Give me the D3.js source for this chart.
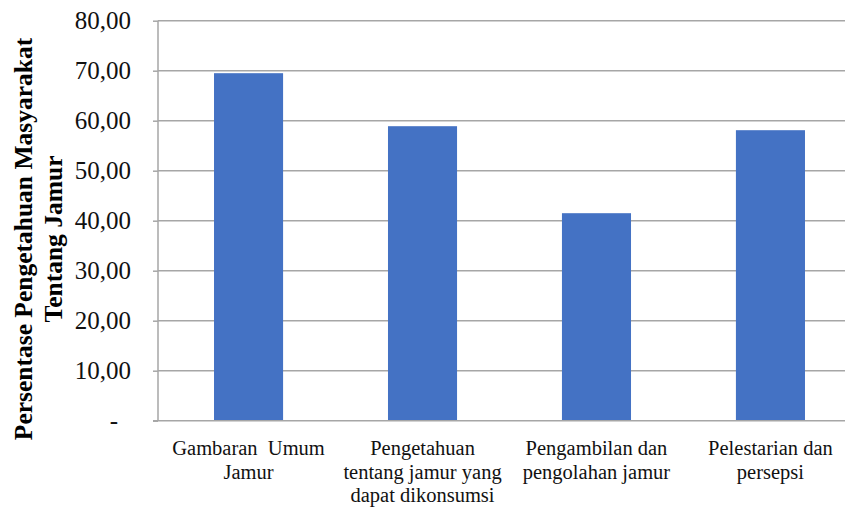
<!DOCTYPE html>
<html>
<head>
<meta charset="utf-8">
<style>
  body { margin: 0; background: #fff; }
  svg { display: block; }
  text { font-family: "Liberation Serif", "Times New Roman", serif; }
</style>
<script src="https://d3js.org/d3.v7.min.js"></script>
</head>
<body>
<svg width="845" height="508"></svg>
<script>
// data
var categories = [
  ["Gambaran  Umum", "Jamur"],
  ["Pengetahuan", "tentang jamur yang", "dapat dikonsumsi"],
  ["Pengambilan dan", "pengolahan jamur"],
  ["Pelestarian dan", "persepsi"]
];
var values = [69.5, 58.9, 41.5, 58.1];
var yTicks = [0, 10, 20, 30, 40, 50, 60, 70, 80];
var yTitle = ["Persentase Pengetahuan Masyarakat", "Tentang Jamur"];

(function() {
  var svg = d3.select("svg");
  var m = {left: 158, right: 861, top: 20.7, bottom: 420.7};

  var x = d3.scaleBand()
      .domain(d3.range(categories.length))
      .range([m.left, m.right])
      .paddingInner(0.603)
      .paddingOuter(0.322);

  var y = d3.scaleLinear().domain([0, 80]).range([m.bottom, m.top]);

  var fmt = function(d) { return d === 0 ? "-" : d3.format(".2f")(d).replace(".", ","); };

  // gridlines
  svg.append("g")
    .selectAll("line")
    .data(yTicks.slice(1))
    .enter().append("line")
      .attr("x1", m.left).attr("x2", 845)
      .attr("y1", function(d) { return y(d); })
      .attr("y2", function(d) { return y(d); })
      .attr("stroke", "#a6a6a6")
      .attr("stroke-width", 1.5);

  // bars
  svg.append("g")
    .selectAll("rect")
    .data(values)
    .enter().append("rect")
      .attr("x", function(d, i) { return x(i); })
      .attr("y", function(d) { return y(d); })
      .attr("width", x.bandwidth())
      .attr("height", function(d) { return m.bottom - y(d); })
      .attr("fill", "#4472c4");

  // y axis
  var yAxis = svg.append("g")
      .attr("transform", "translate(" + m.left + ",0)")
      .call(d3.axisLeft(y).tickValues(yTicks).tickFormat(fmt).tickSize(5).tickPadding(22));
  yAxis.select(".domain").remove();
  yAxis.selectAll(".tick line").attr("stroke", "#a6a6a6").attr("stroke-width", 1.5);
  yAxis.selectAll(".tick text")
      .attr("font-family", null)
      .attr("font-size", 25)
      .attr("fill", "#111")
      .attr("dx", function(d) { return d === 0 ? -13 : 0; });

  // axis lines
  svg.append("line")
      .attr("x1", m.left).attr("x2", m.left)
      .attr("y1", m.top).attr("y2", m.bottom)
      .attr("stroke", "#a6a6a6").attr("stroke-width", 1.5);
  svg.append("line")
      .attr("x1", m.left - 5).attr("x2", 845)
      .attr("y1", m.bottom).attr("y2", m.bottom)
      .attr("stroke", "#a6a6a6").attr("stroke-width", 1.5);

  // x labels
  var xl = svg.append("g")
    .selectAll("text")
    .data(categories)
    .enter().append("text")
      .attr("x", function(d, i) { return x(i) + x.bandwidth() / 2; })
      .attr("y", 455)
      .attr("text-anchor", "middle")
      .attr("font-size", 20.5)
      .attr("fill", "#111")
      .style("white-space", "pre");
  xl.selectAll("tspan")
    .data(function(d) { return d; })
    .enter().append("tspan")
      .attr("x", function() { return this.parentNode.getAttribute("x"); })
      .attr("dy", function(d, i) { return i === 0 ? 0 : 23.5; })
      .text(function(d) { return d; });

  // y title
  svg.append("g")
    .selectAll("text")
    .data(yTitle)
    .enter().append("text")
      .attr("transform", function(d, i) { return "translate(" + (32 + i * 30) + ",239) rotate(-90)"; })
      .attr("text-anchor", "middle")
      .attr("font-weight", "bold")
      .attr("font-size", 25.5)
      .attr("fill", "#000")
      .text(function(d) { return d; });
})();
</script>
</body>
</html>
